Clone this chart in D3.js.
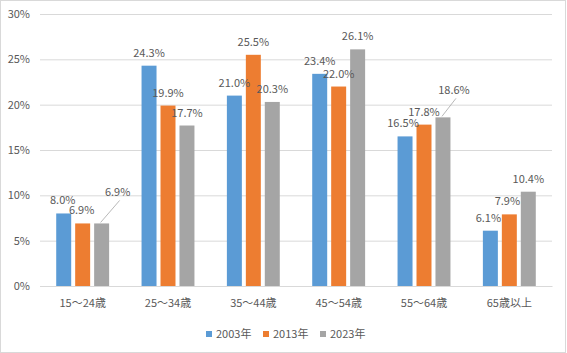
<!DOCTYPE html>
<html>
<head>
<meta charset="utf-8">
<script src="https://cdn.jsdelivr.net/npm/d3@7"></script>
<style>
  body { margin: 0; background: #fff; }
  svg text { font-family: "Noto Sans CJK JP", "Noto Sans", sans-serif; fill: #595959; }
</style>
</head>
<body>
<div id="chart"></div>
<script>
const categories = ["15～24歳", "25～34歳", "35～44歳", "45～54歳", "55～64歳", "65歳以上"];
const seriesNames = ["2003年", "2013年", "2023年"];
const v2003 = [8.0, 24.3, 21.0, 23.4, 16.5, 6.1];
const v2013 = [6.9, 19.9, 25.5, 22.0, 17.8, 7.9];
const v2023 = [6.9, 17.7, 20.3, 26.1, 18.6, 10.4];
const yTicks = [0, 5, 10, 15, 20, 25, 30];
const colors = ["#5B9BD5", "#ED7D31", "#A5A5A5"];

// label nudges (Excel moved a few of them), [series][category] -> [dx, dy]
const labelNudge = {
  "0-0": [-1, 0], "1-0": [-1, 0], "2-0": [16, -18],
  "1-1": [0, 0], "2-1": [0, 0],
  "1-3": [0, 0],
  "0-4": [-2, 0], "1-4": [0, 0], "2-4": [11, -14],
  "0-5": [-2, 0], "1-5": [-2, 0]
};
const leaders = ["2-0", "2-4"];

let height = 353,
    width = 567,
    margin = ({ top: 14, right: 14, bottom: 67, left: 40 });

const svg = d3.select("#chart")
  .append("svg")
  .attr("width", width)
  .attr("height", height);

svg.append("rect")
  .attr("x", 0.5).attr("y", 0.5)
  .attr("width", width - 2).attr("height", height - 1)
  .attr("fill", "#fff")
  .attr("stroke", "#D9D9D9");

const data = categories.map((c, i) => ({ cat: c, vals: [v2003[i], v2013[i], v2023[i]] }));

const x0 = d3.scaleBand()
  .domain(categories)
  .range([margin.left, width - margin.right - 1])
  .paddingInner(0.38)
  .paddingOuter(0.19);

const x1 = d3.scaleBand()
  .domain(d3.range(3))
  .range([0, x0.bandwidth()])
  .padding(0.21)
  .paddingOuter(0);

const y = d3.scaleLinear()
  .domain([0, 30])
  .range([height - margin.bottom, margin.top]);

// gridlines + y labels
svg.append("g")
  .attr("transform", `translate(${margin.left},0)`)
  .call(d3.axisLeft(y).tickValues(yTicks).tickFormat(d => d + "%")
    .tickSize(-(width - margin.left - margin.right - 1)).tickPadding(10))
  .call(g => g.select(".domain").remove())
  .call(g => g.selectAll("line").attr("stroke", "#D9D9D9"))
  .call(g => g.selectAll("text").attr("font-size", 11).attr("fill", "#595959"));

// x labels
svg.append("g")
  .attr("transform", `translate(0,${height - margin.bottom})`)
  .call(d3.axisBottom(x0).tickSize(0).tickPadding(13))
  .call(g => g.select(".domain").attr("stroke", "#D9D9D9"))
  .call(g => g.selectAll("text").attr("font-size", 11).attr("fill", "#595959"));

const groups = svg.append("g")
  .selectAll("g")
  .data(data)
  .join("g")
  .attr("transform", d => `translate(${x0(d.cat)},0)`);

groups.selectAll("rect")
  .data(d => d.vals.map((v, s) => ({ v, s })))
  .join("rect")
  .attr("x", d => x1(d.s))
  .attr("width", x1.bandwidth())
  .attr("y", d => y(d.v))
  .attr("height", d => y(0) - y(d.v))
  .attr("fill", d => colors[d.s]);

// data labels
data.forEach((d, ci) => {
  d.vals.forEach((v, s) => {
    const key = s + "-" + ci;
    const nudge = labelNudge[key] || [0, 0];
    const cx = x0(d.cat) + x1(s) + x1.bandwidth() / 2;
    const top = y(v);
    const lx = cx + nudge[0], ly = top - 9 + nudge[1];
    if (leaders.includes(key)) {
      svg.append("line")
        .attr("x1", cx - 1).attr("y1", top - 1)
        .attr("x2", lx + 2).attr("y2", ly + 4)
        .attr("stroke", "#A6A6A6")
        .attr("stroke-width", 0.8);
    }
    svg.append("text")
      .attr("x", lx)
      .attr("y", ly)
      .attr("text-anchor", "middle")
      .attr("font-size", 11)
      .text(v.toFixed(1) + "%");
  });
});

// legend
const legendX = [206, 263, 320];
const legend = svg.append("g")
  .selectAll("g")
  .data(seriesNames)
  .join("g")
  .attr("transform", (d, i) => `translate(${legendX[i]},331)`);

legend.append("rect")
  .attr("width", 6).attr("height", 6)
  .attr("fill", (d, i) => colors[i]);

legend.append("text")
  .attr("x", 10)
  .attr("y", 3)
  .attr("dy", "0.35em")
  .attr("font-size", 11)
  .text(d => d);
</script>
</body>
</html>
